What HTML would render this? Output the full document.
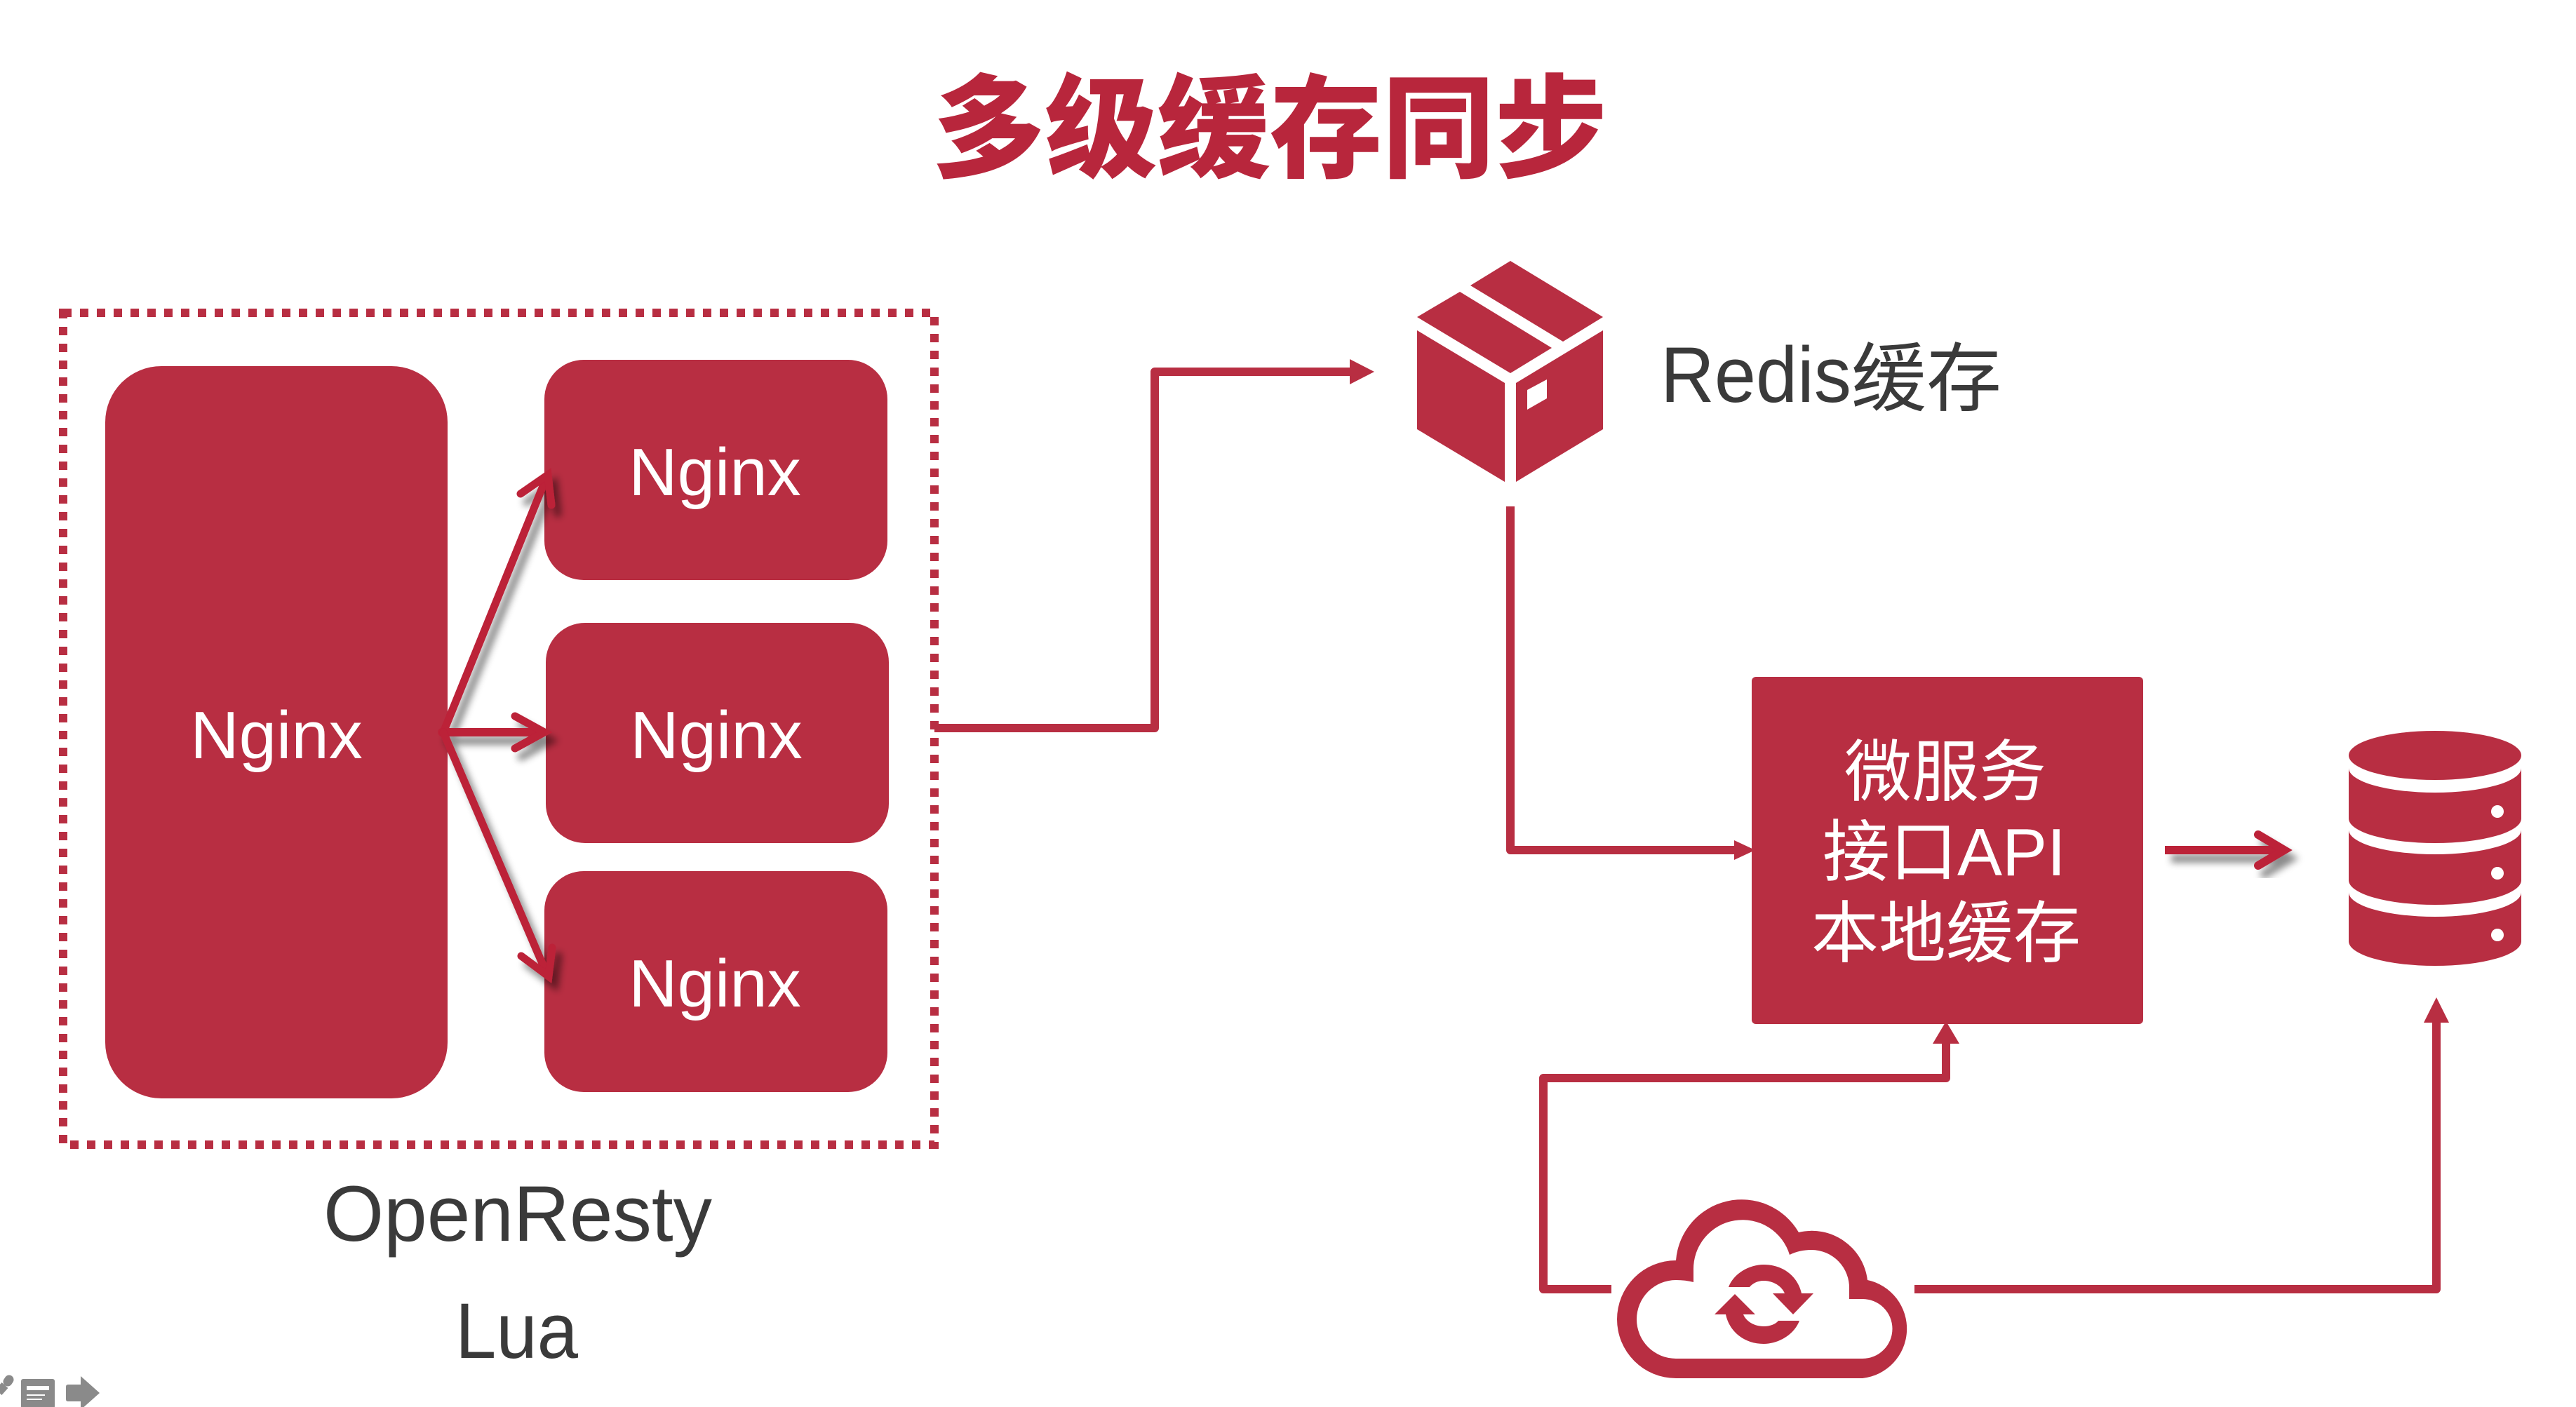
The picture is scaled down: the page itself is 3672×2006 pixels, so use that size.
<!DOCTYPE html>
<html lang="zh">
<head>
<meta charset="utf-8">
<title>多级缓存同步</title>
<style>
html,body{margin:0;padding:0;background:#fff;width:3672px;height:2006px;overflow:hidden}
svg{display:block;position:absolute;left:0;top:0}
text{font-family:"Liberation Sans","Noto Sans CJK SC",sans-serif}
.w{fill:#fff;font-size:96px}
.d{fill:#3a3a3a;font-size:112px}
.c{font-family:"Liberation Sans","Noto Sans CJK SC",sans-serif}
</style>
</head>
<body>
<svg width="3672" height="2006" viewBox="0 0 3672 2006" xmlns="http://www.w3.org/2000/svg">
<defs>
<filter id="sh" x="-30%" y="-30%" width="170%" height="170%" filterUnits="objectBoundingBox">
<feDropShadow dx="9" dy="12" stdDeviation="5" flood-color="#000" flood-opacity="0.45"/>
</filter>
</defs>
<rect width="3672" height="2006" fill="#fff"/>

<!-- Title -->
<text x="1329" y="240" font-size="160" font-weight="900" fill="#b8263c" textLength="962" lengthAdjust="spacingAndGlyphs">多级缓存同步</text>

<!-- Dotted boundary -->
<rect x="90" y="446" width="1242" height="1186" fill="none" stroke="#b82e42" stroke-width="12" stroke-dasharray="12 12"/>

<!-- Nginx boxes -->
<rect x="150" y="522" width="488" height="1044" rx="80" fill="#b82e42"/>
<rect x="776" y="513" width="489" height="314" rx="56" fill="#b82e42"/>
<rect x="778" y="888" width="489" height="314" rx="56" fill="#b82e42"/>
<rect x="776" y="1242" width="489" height="315" rx="56" fill="#b82e42"/>
<text class="w" x="394" y="1081" text-anchor="middle">Nginx</text>
<text class="w" x="1019" y="706" text-anchor="middle">Nginx</text>
<text class="w" x="1021" y="1081" text-anchor="middle">Nginx</text>
<text class="w" x="1019" y="1435" text-anchor="middle">Nginx</text>

<!-- Shadowed fan-out arrows -->
<g fill="none" stroke="#bc2039" stroke-linecap="round" stroke-linejoin="miter" filter="url(#sh)">
<line x1="632" y1="1044" x2="780" y2="678" stroke-width="11"/>
<polyline points="742,704 781,677 786,720" stroke-width="11"/>
<line x1="630" y1="1044" x2="772" y2="1044" stroke-width="12"/>
<polyline points="734,1021 776,1044 734,1067" stroke-width="11"/>
<line x1="632" y1="1044" x2="780" y2="1390" stroke-width="11"/>
<polyline points="743,1363 782,1392 787,1351" stroke-width="11"/>
</g>

<!-- OpenResty -->
<text class="d" x="461" y="1769" textLength="554" lengthAdjust="spacingAndGlyphs">OpenResty</text>
<text class="d" x="649" y="1936" textLength="175" lengthAdjust="spacingAndGlyphs">Lua</text>

<!-- Connector to Redis -->
<polyline points="1332,1038 1646,1038 1646,530 1930,530" fill="none" stroke="#b82e42" stroke-width="12" stroke-linejoin="round"/>
<polygon points="1924,512 1959,530 1924,548" fill="#b82e42"/>

<!-- Cube -->
<g fill="#b82e42">
<polygon points="2153,372 2285,452 2228,487 2096,407"/>
<polygon points="2081,416 2212,496 2153,532 2020,452"/>
<polygon points="2020,471 2145,546 2145,687 2020,612"/>
<path fill-rule="evenodd" d="M2285 471 L2161 546 L2161 687 L2285 612 Z M2205 541 L2205 568 L2177 584 L2177 556 Z"/>
</g>
<text class="d" x="2367" y="573" textLength="272" lengthAdjust="spacingAndGlyphs">Redis</text>
<text class="c" x="2639" y="577" font-size="107" fill="#3a3a3a">缓存</text>

<!-- Redis to service -->
<polyline points="2153,722 2153,1212 2480,1212" fill="none" stroke="#b82e42" stroke-width="12" stroke-linejoin="round"/>
<polygon points="2472,1198 2502,1212 2472,1226" fill="#b82e42"/>

<!-- Service box -->
<rect x="2497" y="965" width="558" height="495" rx="6" fill="#b82e42"/>
<text class="w" x="2773" y="1134" text-anchor="middle">微服务</text>
<text class="w" x="2598" y="1248">接口API</text>
<text class="w" x="2774" y="1364" text-anchor="middle">本地缓存</text>

<!-- Service to DB arrow -->
<g fill="none" stroke="#bc2039" stroke-linecap="butt" filter="url(#sh)">
<line x1="3086" y1="1212" x2="3252" y2="1212" stroke-width="12"/>
<polyline points="3219,1190 3256,1212 3219,1234" stroke-width="12" stroke-linecap="round"/>
</g>

<!-- Database -->
<g fill="#b82e42">
<ellipse cx="3471" cy="1077" rx="123" ry="35"/>
<path d="M3348 1095 A123 35 0 0 0 3594 1095 L3594 1167 A123 35 0 0 1 3348 1167 Z"/>
<path d="M3348 1183 A123 35 0 0 0 3594 1183 L3594 1255 A123 35 0 0 1 3348 1255 Z"/>
<path d="M3348 1272 A123 35 0 0 0 3594 1272 L3594 1342 A123 35 0 0 1 3348 1342 Z"/>
</g>
<g fill="#fff">
<ellipse cx="3560" cy="1157" rx="9" ry="9"/>
<ellipse cx="3560" cy="1245" rx="9" ry="9"/>
<ellipse cx="3560" cy="1333" rx="9" ry="9"/>
</g>

<!-- Cloud connectors -->
<polyline points="2297,1838 2200,1838 2200,1537 2774,1537 2774,1484" fill="none" stroke="#b82e42" stroke-width="12" stroke-linejoin="round"/>
<polygon points="2774,1456 2793,1488 2755,1488" fill="#b82e42"/>
<polyline points="2729,1838 3473,1838 3473,1455" fill="none" stroke="#b82e42" stroke-width="12" stroke-linejoin="round"/>
<polygon points="3473,1422 3491,1458 3455,1458" fill="#b82e42"/>

<!-- Cloud -->
<g transform="translate(3,1)">
<path fill="#b82e42" fill-rule="evenodd" d="M2386 1796 A94 94 0 0 1 2561 1756 A80 80 0 0 1 2659 1824 A71 71 0 0 1 2652 1964 L2386 1964 A84 84 0 0 1 2386 1796 Z
M2411 1827 L2411 1810 A70 70 0 0 1 2548 1788 Q2562 1781 2579 1781 A54 54 0 0 1 2633 1837 L2633 1851 L2652 1851 A42.5 42.5 0 0 1 2652 1936 L2386 1936 A56 56 0 0 1 2386 1824 Q2400 1824 2411 1827 Z"/>
<path fill="#b82e42" d="M2461 1834 C2468 1815 2490 1802 2511 1802 C2540 1802 2560 1820 2565 1843 L2582 1843 L2553 1873 L2524 1843 L2541 1843 C2537 1833 2525 1825 2511 1825 C2502 1825 2495 1829 2491 1834 Z"/>
<path fill="#b82e42" d="M2470 1844 L2499 1873 L2482 1873 C2486 1883 2498 1890 2511 1890 C2520 1890 2528 1887 2532 1882 L2562 1882 C2555 1901 2533 1915 2511 1915 C2483 1915 2462 1897 2457 1873 L2441 1873 Z"/>
</g>

<!-- Bottom-left toolbar icons -->
<g fill="#8a8a8a">
<line x1="-2" y1="1985" x2="7" y2="1975" stroke="#8a8a8a" stroke-width="12"/>
<line x1="11" y1="1970" x2="13" y2="1967" stroke="#8a8a8a" stroke-width="13" stroke-linecap="round"/>
<rect x="30" y="1966" width="48" height="42" rx="3"/>
<path d="M94 1977 Q94 1974 97 1974 L115 1974 L115 1962 L142 1986 L115 2010 L115 1998 L97 1998 Q94 1998 94 1995 Z"/>
</g>
<g fill="#fff">
<rect x="38" y="1976" width="32" height="6"/>
<rect x="38" y="1988" width="26" height="2"/>
<rect x="38" y="1994" width="22" height="2"/>
</g>
</svg>
</body>
</html>
